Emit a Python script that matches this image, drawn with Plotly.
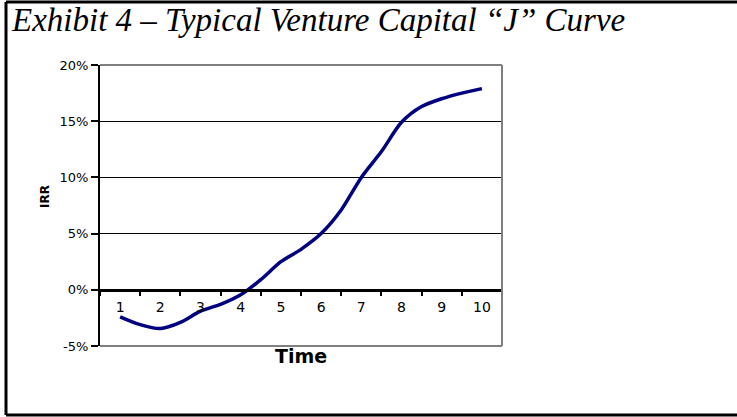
import plotly.graph_objects as go

# Data
time_points = [1, 1.5, 2, 2.5, 3, 3.5, 4, 4.5, 5, 5.5, 6, 6.5, 7, 7.5, 8, 8.5, 9, 9.5, 10]
irr_values = [-2.4, -3.1, -3.45, -2.9, -1.9, -1.3, -0.45, 0.9, 2.5, 3.6, 5.0, 7.1, 10.0, 12.3, 14.9, 16.3, 17.0, 17.5, 17.9]
x_tick_labels = ["1", "2", "3", "4", "5", "6", "7", "8", "9", "10"]
x_tick_vals = [1, 2, 3, 4, 5, 6, 7, 8, 9, 10]
boundary_ticks = [0.5, 1.5, 2.5, 3.5, 4.5, 5.5, 6.5, 7.5, 8.5, 9.5, 10.5]
y_tick_vals = [-5, 0, 5, 10, 15, 20]
y_tick_labels = ["-5%", "0%", "5%", "10%", "15%", "20%"]

W, H = 737, 417
L, R, T, B = 100, 502, 65, 346  # plot area pixels

def px(x):
    return (x - L) / (R - L)

def py(y):
    return (B - y) / (B - T)

fig = go.Figure()
fig.add_trace(go.Scatter(
    x=time_points, y=irr_values, mode="lines",
    line=dict(color="#000080", width=3.5, shape="spline", smoothing=0.8),
    showlegend=False, hoverinfo="skip",
))

fig.update_layout(
    width=W, height=H,
    margin=dict(l=L, r=W - R, t=T, b=H - B),
    paper_bgcolor="white", plot_bgcolor="white",
    font=dict(family="DejaVu Sans", color="black"),
    title=dict(
        text="<i>Exhibit 4 – Typical Venture Capital “J” Curve</i>",
        font=dict(family="Liberation Serif", size=33, color="black"),
        xref="container", yref="container", x=12 / W, xanchor="left",
        y=1 - 8 / H, yanchor="top",
    ),
    xaxis=dict(
        range=[0.5, 10.5], anchor="free", position=0.2,
        showline=True, linecolor="black", linewidth=3,
        showgrid=False, zeroline=False,
        tickmode="array", tickvals=x_tick_vals, ticktext=x_tick_labels,
        ticks="", tickfont=dict(family="DejaVu Sans", size=14),
        ticklabelstandoff=3,
        minor=dict(tickmode="array", tickvals=boundary_ticks, ticks="outside",
                   ticklen=4, tickwidth=2, tickcolor="black", showgrid=False),
        fixedrange=True,
    ),
    yaxis=dict(
        range=[-5, 20], tickmode="array", tickvals=y_tick_vals, ticktext=y_tick_labels,
        showline=True, linecolor="black", linewidth=2,
        ticks="outside", ticklen=7, tickwidth=2, tickcolor="black",
        showgrid=True, gridcolor="black", gridwidth=1, zeroline=False,
        tickfont=dict(family="DejaVu Sans", size=13),
        fixedrange=True,
    ),
)

# Gray plot border (top, right, bottom)
gray = dict(color="#808080", width=2)
fig.add_shape(type="line", xref="paper", yref="paper", x0=0, x1=1, y0=1, y1=1, line=gray, layer="above")
fig.add_shape(type="line", xref="paper", yref="paper", x0=1, x1=1, y0=0, y1=1, line=gray, layer="above")
fig.add_shape(type="line", xref="paper", yref="paper", x0=0, x1=1, y0=0, y1=0, line=gray, layer="above")

# Outer frame
frame = dict(color="black", width=3)
fig.add_shape(type="line", xref="paper", yref="paper", x0=px(6), x1=px(6), y0=py(2), y1=py(415), line=frame)
fig.add_shape(type="line", xref="paper", yref="paper", x0=px(6), x1=px(745), y0=py(2), y1=py(2), line=frame)
fig.add_shape(type="line", xref="paper", yref="paper", x0=px(6), x1=px(745), y0=py(415), y1=py(415), line=frame)

# Axis titles
fig.add_annotation(text="<b>IRR</b>", xref="paper", yref="paper", x=px(45), y=py(197),
                   textangle=-90, showarrow=False, font=dict(family="DejaVu Sans", size=12),
                   xanchor="center", yanchor="middle")
fig.add_annotation(text="<b>Time</b>", xref="paper", yref="paper", x=px(301), y=py(356),
                   showarrow=False, font=dict(family="DejaVu Sans", size=19),
                   xanchor="center", yanchor="middle")

fig.write_html("out.html")
